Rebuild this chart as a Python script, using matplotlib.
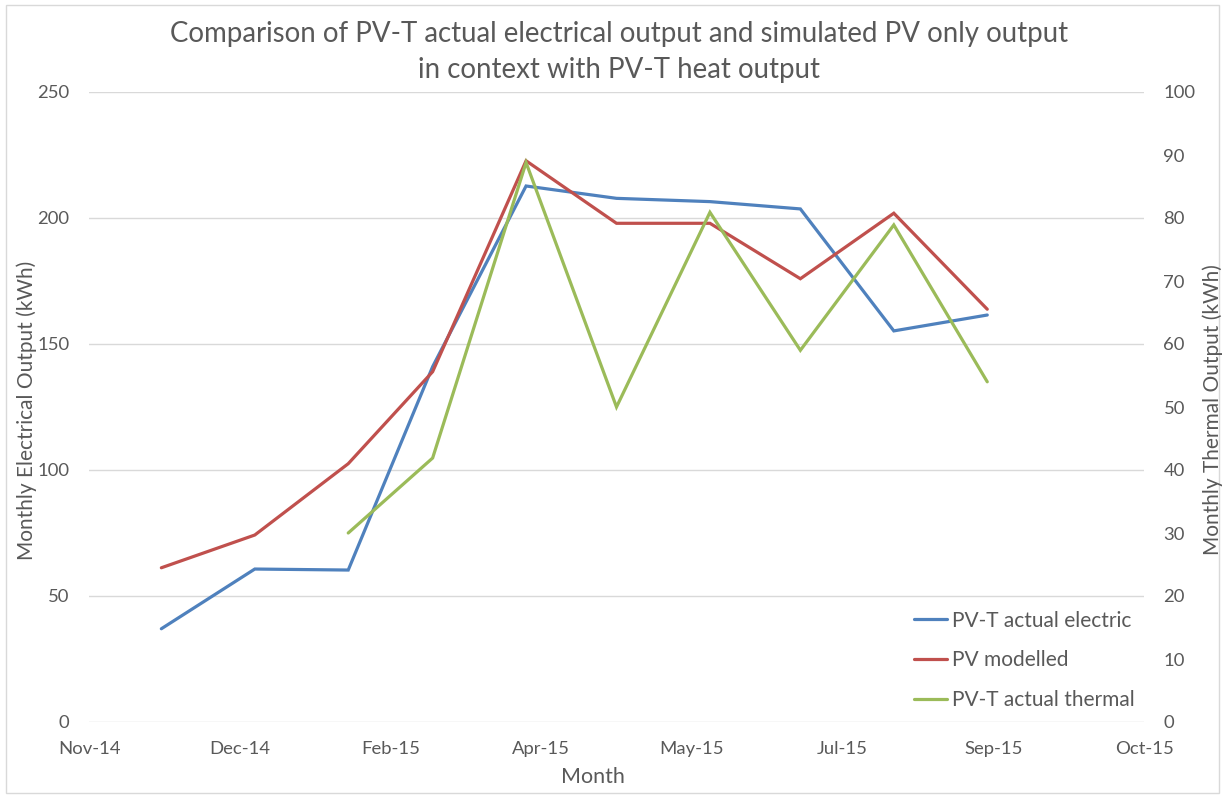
import matplotlib
matplotlib.use("Agg")
import matplotlib.pyplot as plt
import matplotlib.dates as mdates
from matplotlib.patches import Rectangle
import datetime as dt
import numpy as np

# ---- data ----
months = ["2014-12-01", "2015-01-01", "2015-02-01", "2015-03-01", "2015-04-01",
          "2015-05-01", "2015-06-01", "2015-07-01", "2015-08-01", "2015-09-01"]
pvt_electric = [37.0, 60.7, 60.3, 141.0, 212.7, 207.8, 206.5, 203.6, 155.2, 161.5]
pv_modelled = [61.2, 74.2, 102.5, 139.0, 222.7, 197.9, 197.9, 175.9, 201.9, 163.8]
pvt_thermal = [np.nan, np.nan, 30.0, 41.9, 88.8, 50.0, 80.9, 59.0, 78.9, 54.0]
tick_dates = ["2014-11-07", "2014-12-27", "2015-02-15", "2015-04-06",
              "2015-05-26", "2015-07-15", "2015-09-03", "2015-10-23"]

x = [dt.datetime.strptime(m, "%Y-%m-%d") for m in months]
xt = [dt.datetime.strptime(t, "%Y-%m-%d") for t in tick_dates]

plt.rcParams['font.family'] = ['Lato', 'DejaVu Sans']
txt = '#595959'
W, H = 1225, 796
fig = plt.figure(figsize=(W / 100, H / 100), dpi=100)
fig.patches.append(Rectangle((6 / W, 3 / H), 1 - 12 / W, 1 - 8 / H, transform=fig.transFigure,
                             fill=False, edgecolor='#D9D9D9', linewidth=1.0))

ax = fig.add_axes([89 / W, 1 - 722 / H, (1144 - 89) / W, (722 - 92) / H])
ax2 = ax.twinx()

c_blue, c_red, c_green = '#4F81BD', '#C0504D', '#9BBB59'
l1, = ax.plot(x, pvt_electric, color=c_blue, lw=2.3, label='PV-T actual electric',
              solid_capstyle='round', solid_joinstyle='miter')
l2, = ax.plot(x, pv_modelled, color=c_red, lw=2.3, label='PV modelled',
              solid_capstyle='round', solid_joinstyle='miter')
l3, = ax2.plot(x, pvt_thermal, color=c_green, lw=2.3, label='PV-T actual thermal',
               solid_capstyle='round', solid_joinstyle='miter')

ax.set_ylim(0, 250)
ax.set_yticks(np.arange(0, 251, 50))
ax2.set_ylim(0, 100)
ax2.set_yticks(np.arange(0, 101, 10))
ax.set_xlim(xt[0], xt[-1])
ax.set_xticks(xt)
ax.xaxis.set_major_formatter(mdates.DateFormatter('%b-%y'))

ax.grid(axis='y', color='#D9D9D9', lw=1.0)
ax.set_axisbelow(True)
for a in (ax, ax2):
    for s in a.spines.values():
        s.set_visible(False)
    a.tick_params(length=0, colors=txt, labelsize=13.3)
ax.tick_params(axis='y', pad=14)
ax.tick_params(axis='x', pad=14)
ax2.tick_params(axis='y', pad=14)

fig.text(27 / W, 1 - 410 / H, 'Monthly Electrical Output (kWh)', color=txt, fontsize=15,
         rotation=90, ha='center', va='center')
fig.text(1213 / W, 1 - 410 / H, 'Monthly Thermal Output (kWh)', color=txt, fontsize=15,
         rotation=90, ha='center', va='center')
fig.text(593 / W, 1 - 777 / H, 'Month', color=txt, fontsize=15.5, ha='center', va='center')

fig.text(619 / W, 1 - 52 / H, 'Comparison of PV-T actual electrical output and simulated PV only output\nin context with PV-T heat output',
         ha='center', va='center', color=txt, fontsize=19.9, linespacing=1.45)

leg = ax2.legend(handles=[l1, l2, l3], loc='lower right',
                 bbox_to_anchor=(1.0 + 10 / 1055, -7 / 630),
                 frameon=False, fontsize=15, handlelength=1.6, handletextpad=0.25,
                 labelspacing=0.95, borderaxespad=0.5)
for t in leg.get_texts():
    t.set_color(txt)

fig.savefig('out.png', dpi=100)
